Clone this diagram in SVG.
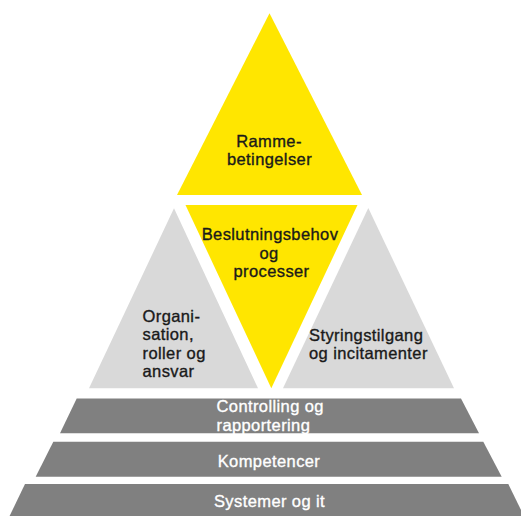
<svg xmlns="http://www.w3.org/2000/svg" width="521" height="516" viewBox="0 0 521 516">
<style>
.yel{fill:#FFE600}
.lg{fill:#D9D9D9}
.dg{fill:#808080}
text{font-family:"Liberation Sans",Arial,sans-serif;font-size:16.5px;letter-spacing:0.4px;stroke-width:0.35px}
.dk{fill:#1a1a1a;stroke:#1a1a1a}
.wt{fill:#ffffff;stroke:#ffffff}
.mid{text-anchor:middle}
</style>
<rect width="521" height="516" fill="#ffffff"/>
<g id="rammebetingelser">
<polygon class="yel" points="269.5,13.3 362,195 177,195"/>
<text class="dk mid" x="269" y="146.5">Ramme-</text>
<text class="dk mid" x="269.5" y="164.5">betingelser</text>
</g>
<g id="beslutningsbehov">
<polygon class="yel" points="185.5,205 357.5,205 271.3,388.3"/>
<text class="dk mid" x="270" y="240">Beslutningsbehov</text>
<text class="dk mid" x="269" y="258.7">og</text>
<text class="dk mid" x="271.5" y="277.3">processer</text>
</g>
<g id="organisation">
<polygon class="lg" points="174,208.3 258,388.3 89,388.3"/>
<text class="dk" x="142.5" y="321.7">Organi-</text>
<text class="dk" x="142.5" y="340">sation,</text>
<text class="dk" x="142.5" y="358.5">roller og</text>
<text class="dk" x="142.5" y="377">ansvar</text>
</g>
<g id="styringstilgang">
<polygon class="lg" points="368.3,208 454,388.3 283,388.3"/>
<text class="dk" x="309" y="340.5">Styringstilgang</text>
<text class="dk" x="309" y="359">og incitamenter</text>
</g>
<g id="controlling">
<polygon class="dg" points="76.7,398.5 461,398.5 479,433.3 60,433.3"/>
<text class="wt" x="216.5" y="412.3">Controlling og</text>
<text class="wt" x="216.5" y="431">rapportering</text>
</g>
<g id="kompetencer">
<polygon class="dg" points="53.3,441.7 483.3,441.7 501.7,476.7 35.7,476.7"/>
<text class="wt mid" x="269" y="466.7">Kompetencer</text>
</g>
<g id="systemer">
<polygon class="dg" points="25,484 508.3,484 524,516 9.6,516"/>
<text class="wt mid" x="269.5" y="506.7">Systemer og it</text>
</g>
<g id="connectors"></g>
</svg>
